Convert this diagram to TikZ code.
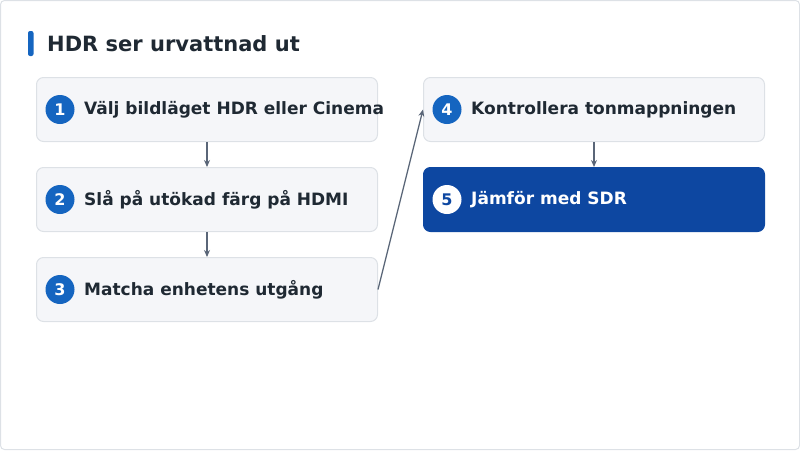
\documentclass[tikz,border=0pt]{standalone}
\usepackage{fontspec}
\setmainfont{DejaVu Sans}
\usetikzlibrary{arrows.meta,positioning}
\definecolor{inkdark}{HTML}{1F2933}
\definecolor{stepblue}{HTML}{1565C0}
\definecolor{lastblue}{HTML}{0D47A1}
\definecolor{boxfill}{HTML}{F5F6F9}
\definecolor{boxline}{HTML}{DDE1E6}
\definecolor{linkgray}{HTML}{5A6678}
\tikzset{
  stepbox/.style={draw=boxline, fill=boxfill, rounded corners=7pt, line width=1pt,
    minimum width=341pt, minimum height=64pt, anchor=north west, inner sep=0pt},
  lastbox/.style={stepbox, draw=lastblue, fill=lastblue},
  badge/.style={circle, fill=stepblue, text=white, minimum size=29pt, inner sep=0pt,
    font=\fontsize{16}{19}\selectfont\bfseries},
  lastbadge/.style={badge, fill=white, text=lastblue},
  steptext/.style={anchor=west, inner sep=0pt, text=inkdark,
    font=\fontsize{17}{20}\selectfont\bfseries},
  link/.style={draw=linkgray, line width=1.3pt, -{Stealth[length=7pt,width=6pt]}}
}
\begin{document}
\begin{tikzpicture}[x=1pt, y=-1pt]
    \useasboundingbox (0,0) rectangle (800,450);
    \draw[boxline, line width=1pt, rounded corners=4pt] (0.5,0.5) rectangle (799.5,449.5);

    % title
    \fill[stepblue, rounded corners=2pt] (28,31) rectangle (33.5,56);
    \node (title) [anchor=west, inner sep=0pt, text=inkdark,
        font=\fontsize{21}{25}\selectfont\bfseries] at (47,44) {HDR ser urvattnad ut};

    % left column
    \node (s1) [stepbox] at (36,77) {};
    \node (s2) [stepbox] at (36,167) {};
    \node (s3) [stepbox] at (36,257) {};
    % right column
    \node (s4) [stepbox] at (423,77) {};
    \node (s5) [lastbox] at (423,167) {};

    \node (b1) [badge] at ([xshift=24pt]s1.west) {1};
    \node (b2) [badge] at ([xshift=24pt]s2.west) {2};
    \node (b3) [badge] at ([xshift=24pt]s3.west) {3};
    \node (b4) [badge] at ([xshift=24pt]s4.west) {4};
    \node (b5) [lastbadge] at ([xshift=24pt]s5.west) {5};

    \node (t1) [steptext] at ([xshift=48pt]s1.west) {Välj bildläget HDR eller Cinema};
    \node (t2) [steptext] at ([xshift=48pt]s2.west) {Slå på utökad färg på HDMI};
    \node (t3) [steptext] at ([xshift=48pt]s3.west) {Matcha enhetens utgång};
    \node (t4) [steptext] at ([xshift=48pt]s4.west) {Kontrollera tonmappningen};
    \node (t5) [steptext, text=white] at ([xshift=48pt]s5.west) {Jämför med SDR};

    \draw[link] (s1.south) -- (s2.north);
    \draw[link] (s2.south) -- (s3.north);
    \draw[link] (s3.east) -- (s4.west);
    \draw[link] (s4.south) -- (s5.north);
\end{tikzpicture}
\end{document}
